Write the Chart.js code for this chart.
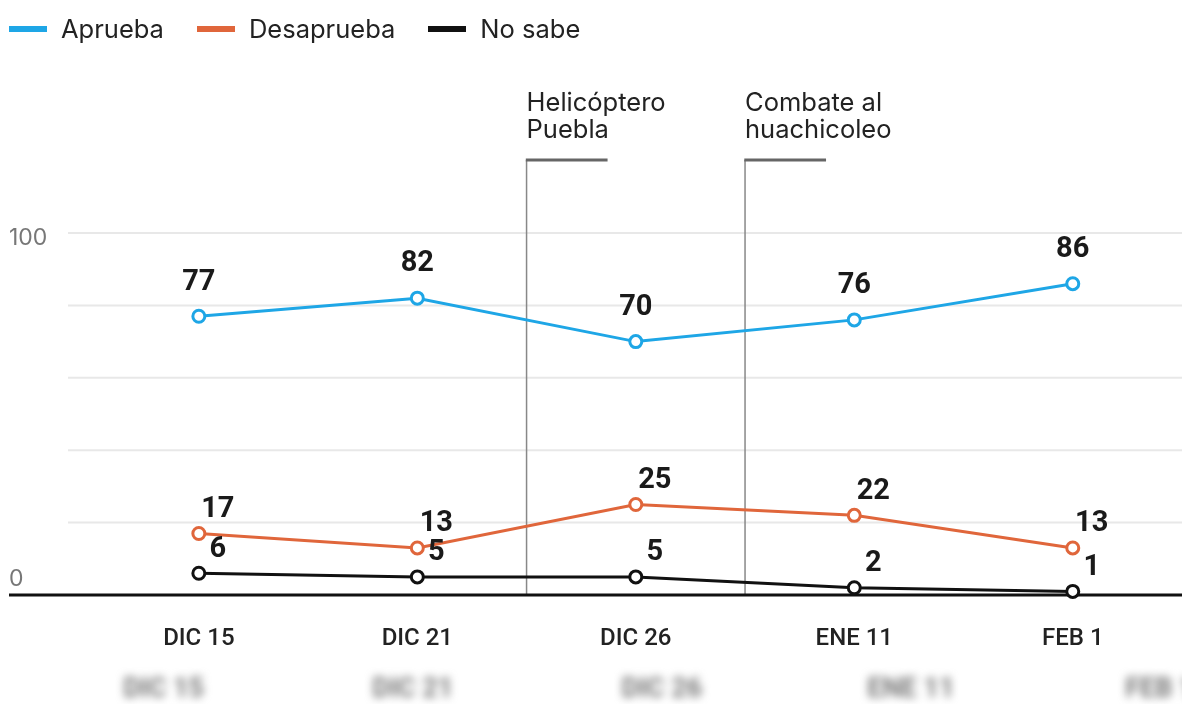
<!DOCTYPE html>
<html>
<head>
<meta charset="utf-8">
<script src="https://cdn.jsdelivr.net/npm/chart.js@4"></script>
<style>
  html, body { margin: 0; padding: 0; background: #fff; }
  #wrap { position: relative; width: 1182px; height: 704px; }
  #legend { position: absolute; left: 9px; top: 14px; display: flex; font: 25.5px Inter, sans-serif; color: #222; line-height: 30px; }
  .item { display: flex; align-items: center; margin-right: 33px; }
  .sw { width: 38px; height: 6px; margin-right: 14px; }
</style>
</head>
<body>
<div id="wrap">
  <canvas id="chart" width="1182" height="704"></canvas>
  <div id="legend"></div>
</div>
<script>
const categories = ["DIC 15", "DIC 21", "DIC 26", "ENE 11", "FEB 1"];
const aprueba = [77, 82, 70, 76, 86];
const desaprueba = [17, 13, 25, 22, 13];
const noSabe = [6, 5, 5, 2, 1];
const seriesNames = ["Aprueba", "Desaprueba", "No sabe"];
const seriesColors = ["#1ea6e6", "#e0663b", "#111111"];
const yTickLabels = [0, 100];
const eventPos = [1.5, 2.5];
const eventText = [["Helicóptero", "Puebla"], ["Combate al", "huachicoleo"]];

// legend (html)
document.getElementById("legend").innerHTML = seriesNames.map((n, i) => `
  <div class="item"><div class="sw" style="background:${seriesColors[i]}"></div>${n}</div>
`).join("");

const gridPlugin = {
  id: "grid",
  beforeDatasetsDraw(chart) {
    const { ctx, scales: { y } } = chart;
    ctx.save();
    y.ticks.forEach(t => {
      if (t.value === 0) return;
      const py = y.getPixelForValue(t.value);
      ctx.strokeStyle = "#e8e8e8";
      ctx.lineWidth = 2;
      ctx.beginPath(); ctx.moveTo(68, py); ctx.lineTo(chart.width, py); ctx.stroke();
    });
    // y labels
    ctx.fillStyle = "#777";
    ctx.font = "23px Inter, sans-serif";
    ctx.textAlign = "left";
    ctx.textBaseline = "middle";
    yTickLabels.forEach(v => {
      const py = y.getPixelForValue(v);
      ctx.fillText(String(v), 9, v === 0 ? py - 16 : py + 5);
    });
    // events
    eventPos.forEach((p, i) => {
      const px = chart.scales.x.getPixelForValue(p);
      const top = chart.chartArea.top - 73;
      ctx.strokeStyle = "#888";
      ctx.lineWidth = 1.5;
      ctx.beginPath(); ctx.moveTo(px, top); ctx.lineTo(px, y.getPixelForValue(0)); ctx.stroke();
      ctx.strokeStyle = "#666";
      ctx.lineWidth = 3;
      ctx.beginPath(); ctx.moveTo(px - 0.75, top); ctx.lineTo(px + 81, top); ctx.stroke();
      ctx.fillStyle = "#222";
      ctx.font = "25.5px Inter, sans-serif";
      eventText[i].forEach((line, j) => ctx.fillText(line, px, top - 57 + j * 27));
    });
    // baseline
    const p0 = y.getPixelForValue(0);
    ctx.strokeStyle = "#111";
    ctx.lineWidth = 3;
    ctx.beginPath(); ctx.moveTo(9, p0); ctx.lineTo(chart.width, p0); ctx.stroke();
    ctx.restore();
  }
};

const labelPlugin = {
  id: "valueLabels",
  afterDatasetsDraw(chart) {
    const { ctx } = chart;
    ctx.save();
    ctx.font = "bold 29px Roboto, sans-serif";
    ctx.fillStyle = "#1a1a1a";
    ctx.textAlign = "center";
    ctx.textBaseline = "middle";
    chart.data.datasets.forEach((ds, i) => {
      chart.getDatasetMeta(i).data.forEach((pt, j) => {
        if (i === 0) ctx.fillText(ds.data[j], pt.x, pt.y - 34);
        else ctx.fillText(ds.data[j], pt.x + 19, pt.y - 24);
      });
    });
    ctx.restore();
  }
};

// faded duplicate of the axis under the chart
const ghostPlugin = {
  id: "ghost",
  afterDraw(chart) {
    const { ctx, scales: { x } } = chart;
    ctx.save();
    ctx.filter = "blur(4px)";
    ctx.fillStyle = "#777";
    ctx.font = "bold 27px Roboto, sans-serif";
    ctx.textAlign = "center";
    ctx.textBaseline = "middle";
    categories.forEach((c, i) => {
      const px = x.getPixelForValue(i);
      ctx.fillText(c, px + (px - 450) * 0.14, 690);
    });
    ctx.restore();
  }
};

new Chart(document.getElementById("chart"), {
  type: "line",
  data: {
    labels: categories,
    datasets: [aprueba, desaprueba, noSabe].map((d, i) => ({
      label: seriesNames[i],
      data: d,
      borderColor: seriesColors[i],
      backgroundColor: seriesColors[i],
      borderWidth: 3,
      pointRadius: 6,
      pointHoverRadius: 6,
      pointBorderWidth: 3,
      pointBackgroundColor: "#fff",
      pointBorderColor: seriesColors[i],
      tension: 0,
      clip: false
    }))
  },
  options: {
    responsive: false,
    animation: false,
    layout: { autoPadding: false, padding: { top: 233, left: 89.6, right: -1.5, bottom: 0 } },
    plugins: { legend: { display: false }, tooltip: { enabled: false } },
    scales: {
      x: {
        offset: true,
        grid: { display: false, drawTicks: false },
        border: { display: false },
        ticks: { color: "#222", font: { family: "Roboto", size: 24, weight: 500 }, padding: 30 },
        afterFit: s => { s.height = 109; s.paddingLeft = 0; s.paddingRight = 0; }
      },
      y: {
        display: false,
        min: 0,
        max: 100,
        ticks: { stepSize: 20 }
      }
    }
  },
  plugins: [gridPlugin, labelPlugin, ghostPlugin]
});
</script>
</body>
</html>
